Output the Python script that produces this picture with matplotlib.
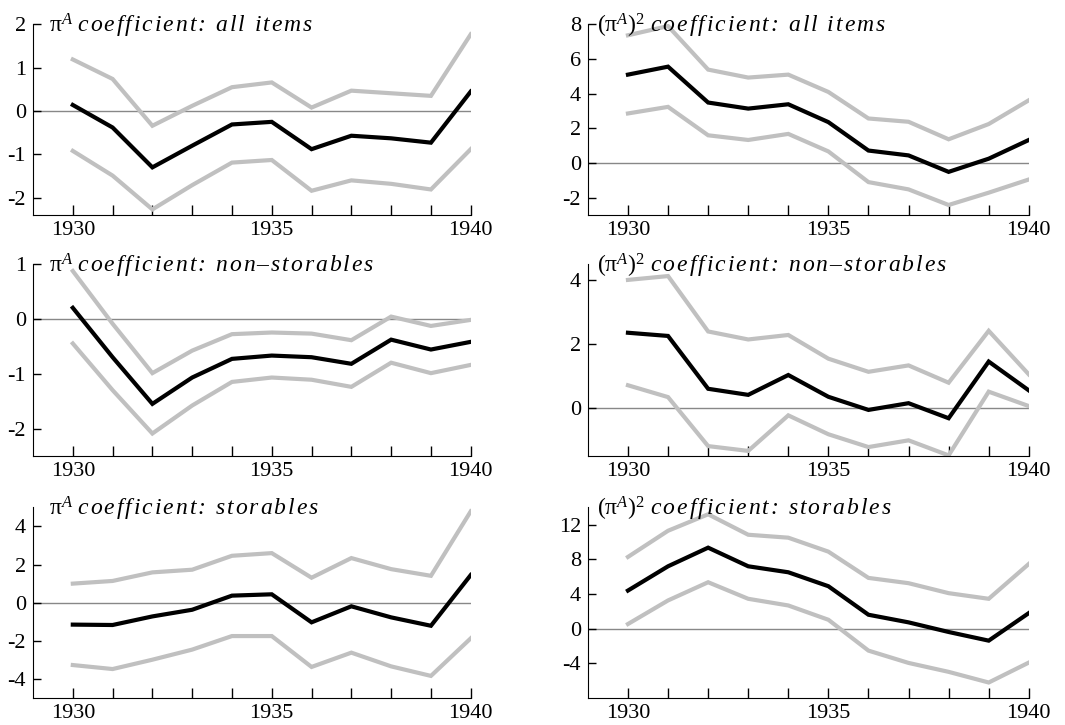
import numpy as np
import matplotlib
matplotlib.use("Agg")
import matplotlib.pyplot as plt

plt.rcParams['font.family'] = ['Liberation Serif', 'DejaVu Serif']
plt.rcParams['mathtext.fontset'] = 'custom'
plt.rcParams['mathtext.rm'] = 'Liberation Serif'
plt.rcParams['mathtext.it'] = 'Liberation Serif:italic'
plt.rcParams['axes.unicode_minus'] = False

years = list(range(1930, 1941))

# pi^A coefficient: all items
all_lin = [0.14, -0.38, -1.30, -0.80, -0.31, -0.25, -0.88, -0.57, -0.63, -0.73, 0.45]
all_lin_hi = [1.19, 0.74, -0.34, 0.12, 0.55, 0.66, 0.08, 0.47, 0.41, 0.35, 1.77]
all_lin_lo = [-0.92, -1.49, -2.27, -1.71, -1.19, -1.13, -1.84, -1.60, -1.68, -1.81, -0.88]

# (pi^A)^2 coefficient: all items
all_sq = [5.10, 5.56, 3.49, 3.14, 3.39, 2.36, 0.72, 0.44, -0.51, 0.25, 1.33]
all_sq_hi = [7.37, 7.90, 5.39, 4.93, 5.10, 4.10, 2.57, 2.38, 1.37, 2.25, 3.62]
all_sq_lo = [2.86, 3.24, 1.60, 1.33, 1.68, 0.67, -1.10, -1.52, -2.42, -1.71, -0.95]

# pi^A coefficient: non-storables
non_lin = [0.20, -0.70, -1.55, -1.07, -0.73, -0.67, -0.70, -0.82, -0.38, -0.56, -0.42]
non_lin_hi = [0.87, -0.09, -0.99, -0.58, -0.28, -0.25, -0.27, -0.39, 0.04, -0.13, -0.02]
non_lin_lo = [-0.45, -1.30, -2.09, -1.58, -1.15, -1.07, -1.11, -1.24, -0.80, -0.99, -0.84]

# (pi^A)^2 coefficient: non-storables
non_sq = [2.35, 2.25, 0.60, 0.41, 1.03, 0.35, -0.06, 0.15, -0.32, 1.45, 0.55]
non_sq_hi = [4.00, 4.12, 2.39, 2.14, 2.28, 1.54, 1.13, 1.33, 0.79, 2.41, 1.05]
non_sq_lo = [0.71, 0.34, -1.19, -1.34, -0.23, -0.82, -1.22, -1.01, -1.48, 0.51, 0.06]

# pi^A coefficient: storables
sto_lin = [-1.15, -1.17, -0.72, -0.37, 0.37, 0.44, -1.03, -0.19, -0.77, -1.21, 1.45]
sto_lin_hi = [1.00, 1.14, 1.59, 1.73, 2.46, 2.60, 1.31, 2.34, 1.76, 1.41, 4.79]
sto_lin_lo = [-3.27, -3.48, -2.99, -2.46, -1.75, -1.75, -3.37, -2.62, -3.34, -3.84, -1.87]

# (pi^A)^2 coefficient: storables
sto_sq = [4.40, 7.20, 9.35, 7.20, 6.51, 4.90, 1.61, 0.73, -0.38, -1.38, 1.80]
sto_sq_hi = [8.28, 11.30, 13.20, 10.84, 10.50, 8.89, 5.86, 5.25, 4.10, 3.45, 7.47]
sto_sq_lo = [0.54, 3.26, 5.36, 3.45, 2.68, 1.03, -2.53, -3.95, -4.98, -6.21, -3.91]

HS = "\u200a"  # hair space


def spaced(*words):
    # wide letter spacing like the original typesetting
    return (HS + " " + HS).join(HS.join(w) for w in words)


lin_lbl = r"$\mathrm{\pi}^{A}$ "
sq_lbl = r"$(\mathrm{\pi}^{A})^{2}$ "

panels = [
    (all_lin, all_lin_hi, all_lin_lo, lin_lbl + spaced("coefficient:", "all", "items"),
     (-2.4, 2), [-2, -1, 0, 1, 2]),
    (all_sq, all_sq_hi, all_sq_lo, sq_lbl + spaced("coefficient:", "all", "items"),
     (-3, 8), [-2, 0, 2, 4, 6, 8]),
    (non_lin, non_lin_hi, non_lin_lo, lin_lbl + spaced("coefficient:", "non–storables"),
     (-2.5, 1), [-2, -1, 0, 1]),
    (non_sq, non_sq_hi, non_sq_lo, sq_lbl + spaced("coefficient:", "non–storables"),
     (-1.5, 4.5), [0, 2, 4]),
    (sto_lin, sto_lin_hi, sto_lin_lo, lin_lbl + spaced("coefficient:", "storables"),
     (-5, 5), [-4, -2, 0, 2, 4]),
    (sto_sq, sto_sq_hi, sto_sq_lo, sq_lbl + spaced("coefficient:", "storables"),
     (-8, 14), [-4, 0, 4, 8, 12]),
]

fig = plt.figure(figsize=(10.65, 7.25), dpi=100)

# axes boxes in figure fractions (left, bottom, width, height)
lefts = [0.031, 0.552]
widths = [0.411, 0.414]
bottoms = [0.7034, 0.371, 0.0372]
heights = [0.263, 0.265, 0.263]
title_x = [0.037, 0.021]

for i, (mid, hi, lo, title, ylim, yticks) in enumerate(panels):
    r, c = divmod(i, 2)
    ax = fig.add_axes([lefts[c], bottoms[r], widths[c], heights[r]])
    ax.axhline(0, color='#888888', lw=1, zorder=1)
    ax.plot(years, hi, color='#c0c0c0', lw=3, solid_joinstyle='miter', zorder=2)
    ax.plot(years, lo, color='#c0c0c0', lw=3, solid_joinstyle='miter', zorder=2)
    ax.plot(years, mid, color='black', lw=3, solid_joinstyle='miter', zorder=3)
    ax.set_xlim(1929, 1940)
    ax.set_ylim(*ylim)
    ax.set_xticks([1930, 1935, 1940])
    ax.set_xticks(years, minor=True)
    ax.set_yticks(yticks)
    ax.spines['top'].set_visible(False)
    ax.spines['right'].set_visible(False)
    ax.tick_params(axis='both', which='both', direction='in', labelsize=16, width=1)
    ax.tick_params(axis='x', which='both', length=7, pad=4)
    ax.tick_params(axis='y', length=6, pad=5)
    ax.text(title_x[c], 0.955, title, transform=ax.transAxes, fontsize=17,
            fontstyle='italic', va='baseline', ha='left', zorder=5)

plt.savefig("out.png", dpi=100)
